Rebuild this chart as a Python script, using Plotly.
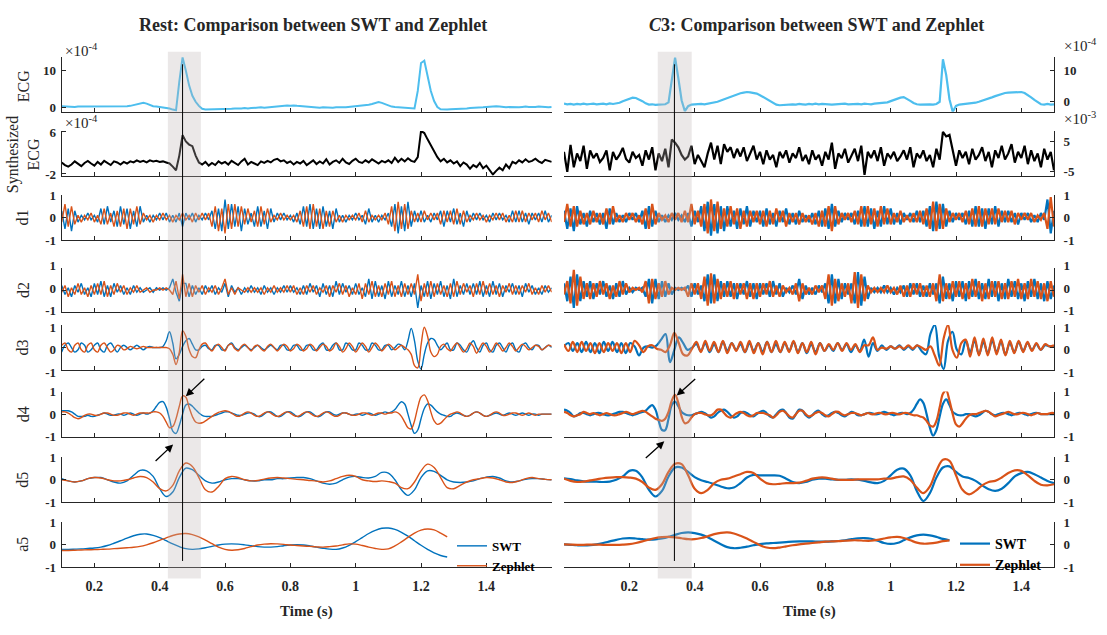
import numpy as np
import plotly.graph_objects as go

W, H = 1107, 635
FONT = "Times New Roman, Liberation Serif, serif"
SWT_C = "#0072BD"
ZEP_C = "#D95319"
ECG_C = "#4DBEEE"
AX_C = "#262626"

# ---------------- Rest recording (t = 0.10 .. 1.60 s) ----------------
rest_ecg = [
    0.4, 0.3, 0.4, 0.3, 0.2, 0.3, 0.3, 0.2, 0.3, 0.4,
    0.3, 0.2, 0.3, 0.3, 0.2, 0.4, 0.3, 0.3, 0.4, 0.3,
    0.4, 0.5, 0.7, 0.9, 1.0, 1.3, 1.1, 0.7, 0.4, 0.3,
    0.2, 0.1, 0.0, -0.2, -0.5, -0.7, 7.0, 13.5, 10.0, 6.0,
    3.2, 1.6, 0.5, -0.3, -0.5, -0.5, -0.4, -0.5, -0.4, -0.3,
    -0.4, -0.3, -0.3, -0.2, -0.3, -0.2, -0.1, -0.2, -0.1, 0.0,
    0.0, 0.1, 0.0, 0.1, 0.1, 0.2, 0.3, 0.4, 0.5, 0.6,
    0.5, 0.6, 0.5, 0.4, 0.3, 0.2, 0.1, 0.0, 0.1, 0.0,
    0.1, 0.0, 0.1, 0.0, 0.1, 0.2, 0.1, 0.1, 0.2, 0.3,
    0.3, 0.4, 0.5, 0.6, 0.8, 1.0, 1.2, 1.5, 1.3, 0.9,
    0.5, 0.3, 0.2, 0.1, 0.0, 0.0, -0.2, -0.3, -0.2, 4.5,
    12.0, 12.6, 8.5, 4.5, 1.8, 0.2, -0.4, -0.5, -0.5, -0.4,
    -0.4, -0.3, -0.3, -0.2, -0.2, -0.1, -0.1, 0.0, 0.0, 0.1,
    0.2, 0.3, 0.5, 0.4, 0.3, 0.2, 0.1, 0.2, 0.1, 0.2,
    0.1, 0.2, 0.3, 0.2, 0.1, 0.2, 0.3, 0.2, 0.2, 0.1, 0.2,
]
rest_synth = [
    0.2, -0.3, -0.6, -0.2, 0.4, -0.1, -0.5, 0.1, 0.5, 0.0,
    -0.4, 0.3, -0.2, 0.5, 0.1, -0.3, 0.4, 0.2, -0.2, 0.3,
    0.0, 0.4, 0.2, 0.6, 0.3, 0.5, 0.2, 0.6, 0.4, 0.5,
    0.3, 0.4, 0.2, 0.0, -0.6, -1.3, 1.5, 5.4, 4.2, 3.6,
    3.3, 1.5, 0.2, -0.2, 0.3, -0.4, 0.1, -0.3, 0.4, 0.0,
    0.3, -0.2, 0.5, 0.1, -0.3, 0.4, 0.9, -0.2, 0.3, 0.0,
    -0.3, 0.4, 0.1, 0.5, 0.2, 0.7, 0.9, 0.4, 0.6, 0.1,
    0.4, -0.2, 0.3, 0.0, 0.5, -0.3, 0.2, 0.6, -0.1, 0.4,
    0.0, 0.8, -0.2, 0.3, 0.6, 0.1, 0.9, 0.2, -0.1, 0.5,
    0.9, 0.3, 0.1, 0.6, 0.2, 0.8, 0.4, 0.0, 0.5, 0.2,
    0.6, 0.1, 1.1, 0.3, 0.9, 0.4, 1.0, 0.5, 0.3, 1.2,
    6.2, 5.8, 4.6, 3.4, 2.2, 1.2, 0.4, 0.9, 0.2, 0.6,
    0.0, 0.4, -0.5, 0.2, -0.2, -1.0, -0.3, -0.7, 0.1, -0.9,
    -0.4, -1.2, -2.1, -1.4, -0.8, -1.3, -0.2, -0.9, 0.3, 0.0,
    0.6, 0.2, 0.8, 0.3, 0.5, 0.9, 0.4, 0.1, 0.7, 0.5, 0.3,
]
rest_d1_swt = [
    0.3, -0.5, 0.4, -0.6, 0.3, -0.2, 0.1, -0.1, 0.2, -0.1,
    0.1, -0.2, 0.4, -0.3, 0.5, -0.2, 0.3, -0.4, 0.5, -0.3,
    0.4, -0.5, 0.3, -0.4, 0.5, -0.2, 0.1, -0.2, 0.1, -0.1,
    0.2, -0.1, 0.2, -0.2, 0.1, -0.2, 0.2, -0.4, 0.2, -0.1,
    0.2, -0.2, 0.1, -0.1, 0.2, -0.1, 0.3, -0.5, 0.4, -0.6,
    0.8, -0.5, 0.6, -0.4, 0.5, -0.6, 0.4, -0.3, 0.2, -0.4,
    0.5, -0.4, 0.3, -0.5, 0.4, -0.2, 0.2, -0.1, 0.2, -0.1,
    0.1, -0.2, 0.2, -0.3, 0.5, -0.4, 0.6, -0.5, 0.4, -0.5,
    0.5, -0.4, 0.3, -0.5, 0.4, -0.2, 0.1, -0.2, 0.1, -0.1,
    0.2, -0.1, 0.1, -0.3, 0.4, -0.2, 0.1, -0.2, 0.1, -0.1,
    0.2, -0.4, 0.6, -0.7, 0.5, -0.6, 0.7, -0.4, 0.3, -0.2,
    0.3, -0.2, 0.1, -0.2, 0.2, -0.1, 0.3, -0.4, 0.3, -0.2,
    0.4, -0.3, 0.2, -0.4, 0.3, -0.2, 0.2, -0.1, 0.2, -0.1,
    0.1, -0.2, 0.2, -0.1, 0.2, -0.1, 0.1, -0.2, 0.3, -0.2,
    0.3, -0.2, 0.2, -0.3, 0.2, -0.1, 0.2, -0.2, 0.3, -0.2, 0.1,
]
rest_d1_zep = [
    -0.2, 0.6, -0.4, 0.5, -0.3, 0.1, -0.2, 0.1, -0.1, 0.2,
    -0.2, 0.1, -0.3, 0.4, -0.3, 0.2, -0.4, 0.3, -0.4, 0.4,
    -0.5, 0.4, -0.3, 0.5, -0.3, 0.2, -0.1, 0.1, -0.2, 0.1,
    -0.1, 0.2, -0.1, 0.1, -0.2, 0.1, -0.1, 0.2, -0.1, 0.1,
    -0.2, 0.2, -0.1, 0.2, -0.1, 0.2, -0.4, 0.5, -0.6, 0.4,
    -0.7, 0.6, -0.5, 0.6, -0.4, 0.5, -0.3, 0.4, -0.2, 0.3,
    -0.4, 0.5, -0.3, 0.4, -0.2, 0.1, -0.1, 0.2, -0.1, 0.1,
    -0.1, 0.1, -0.2, 0.3, -0.4, 0.5, -0.5, 0.6, -0.4, 0.4,
    -0.5, 0.3, -0.4, 0.3, -0.2, 0.1, -0.2, 0.1, -0.1, 0.1,
    -0.1, 0.2, -0.2, 0.3, -0.2, 0.1, -0.1, 0.1, -0.1, 0.2,
    -0.3, 0.5, -0.6, 0.7, -0.5, 0.6, -0.5, 0.3, -0.2, 0.2,
    -0.2, 0.3, -0.1, 0.2, -0.1, 0.2, -0.3, 0.3, -0.2, 0.3,
    -0.3, 0.4, -0.3, 0.3, -0.2, 0.1, -0.1, 0.2, -0.1, 0.1,
    -0.2, 0.1, -0.1, 0.2, -0.1, 0.2, -0.2, 0.1, -0.2, 0.3,
    -0.2, 0.3, -0.2, 0.2, -0.1, 0.2, -0.2, 0.3, -0.1, 0.2, -0.2,
]
rest_d2_swt = [
    0.2, -0.2, 0.1, -0.3, 0.2, -0.1, 0.3, -0.2, 0.1, -0.3,
    0.3, -0.2, 0.4, -0.3, 0.2, -0.3, 0.3, -0.1, 0.2, -0.2,
    0.1, -0.2, 0.2, -0.1, 0.1, -0.1, 0.0, 0.1, -0.1, 0.1,
    0.0, 0.1, 0.0, 0.1, 0.5, -0.1, -0.5, 0.3, 0.3, -0.3,
    0.2, -0.2, 0.1, -0.2, 0.2, -0.1, 0.2, -0.2, 0.1, -0.1,
    0.3, -0.3, 0.2, -0.1, 0.1, -0.2, 0.1, -0.1, 0.2, -0.1,
    0.1, -0.2, 0.2, -0.1, 0.1, -0.2, 0.1, -0.1, 0.2, -0.1,
    0.2, -0.1, 0.1, -0.2, 0.2, -0.2, 0.3, -0.1, 0.2, -0.3,
    0.3, -0.2, 0.2, -0.3, 0.4, -0.2, 0.3, -0.1, 0.2, -0.2,
    0.3, -0.2, 0.1, -0.3, 0.5, -0.4, 0.4, -0.3, 0.2, -0.4,
    0.4, -0.3, 0.2, -0.2, 0.4, -0.3, 0.2, -0.3, 0.3, -0.8,
    0.2, -0.3, 0.4, -0.4, 0.3, -0.2, 0.4, -0.3, 0.2, -0.4,
    0.5, -0.3, 0.2, -0.2, 0.3, -0.2, 0.3, -0.2, 0.4, -0.3,
    0.2, -0.3, 0.4, -0.2, 0.3, -0.3, 0.2, -0.1, 0.3, -0.2,
    0.2, -0.3, 0.3, -0.1, 0.2, -0.2, 0.1, -0.2, 0.2, -0.1, 0.1,
]
rest_d2_zep = [
    -0.1, 0.2, -0.3, 0.1, -0.2, 0.3, -0.2, 0.1, -0.3, 0.2,
    -0.2, 0.3, -0.2, 0.4, -0.3, 0.2, -0.2, 0.3, -0.1, 0.2,
    -0.2, 0.1, -0.1, 0.2, -0.1, 0.0, 0.1, -0.1, 0.0, 0.0,
    0.1, 0.0, 0.1, 0.0, -0.2, 0.4, -0.4, 0.7, -0.3, 0.3,
    -0.3, 0.2, -0.1, 0.2, -0.2, 0.1, -0.1, 0.2, -0.2, 0.1,
    0.5, -0.2, 0.1, -0.2, 0.1, 0.0, -0.1, 0.1, -0.1, 0.1,
    -0.1, 0.1, -0.2, 0.1, -0.1, 0.2, -0.1, 0.1, -0.1, 0.2,
    -0.1, 0.2, -0.2, 0.1, -0.2, 0.2, -0.1, 0.2, -0.2, 0.1,
    -0.1, 0.2, -0.3, 0.2, -0.1, 0.3, -0.2, 0.2, -0.3, 0.1,
    -0.2, 0.3, -0.4, 0.3, -0.2, 0.4, -0.3, 0.2, -0.3, 0.3,
    -0.2, 0.4, -0.3, 0.2, -0.3, 0.3, -0.2, 0.3, -0.2, 0.7,
    -0.5, 0.3, -0.3, 0.4, -0.3, 0.3, -0.2, 0.2, -0.3, 0.3,
    -0.3, 0.4, -0.2, 0.3, -0.1, 0.2, -0.3, 0.3, -0.2, 0.4,
    -0.2, 0.3, -0.2, 0.2, -0.3, 0.2, -0.1, 0.3, -0.2, 0.2,
    -0.2, 0.2, -0.1, 0.3, -0.2, 0.1, -0.2, 0.2, -0.1, 0.2, -0.1,
]
rest_d3_swt = [
    -0.2, 0.1, 0.2, 0.0, -0.2, -0.1, 0.2, 0.1, -0.2, -0.1,
    0.1, 0.2, -0.1, -0.2, 0.1, 0.2, 0.0, -0.2, 0.0, 0.1,
    0.0, -0.1, 0.0, 0.1, 0.0, -0.1, 0.0, 0.05, 0.0, 0.0,
    0.0, 0.05, 0.3, 0.7, 0.2, -0.5, -0.3, 0.05, 0.3, 0.4,
    0.15, -0.1, -0.1, 0.05, 0.1, -0.05, -0.1, 0.1, 0.1, -0.1,
    -0.1, 0.1, 0.2, 0.0, -0.1, 0.0, 0.1, 0.0, -0.1, 0.0,
    0.1, 0.0, -0.1, 0.0, 0.1, 0.0, -0.1, 0.1, 0.1, -0.1,
    -0.1, 0.1, 0.1, -0.1, -0.1, 0.1, 0.1, -0.1, -0.1, 0.1,
    0.2, -0.1, -0.1, 0.1, 0.2, -0.1, -0.1, 0.2, 0.1, -0.1,
    -0.1, 0.2, 0.1, -0.1, -0.1, 0.2, 0.1, -0.1, -0.1, 0.1,
    0.1, -0.1, 0.0, 0.15, 0.1, -0.1, 0.3, 0.85, 0.3, -0.6,
    -0.95, -0.3, 0.2, 0.4, 0.35, 0.1, -0.1, 0.05, 0.2, -0.1,
    -0.1, 0.2, 0.1, -0.1, -0.2, 0.1, 0.3, 0.0, -0.2, 0.1,
    0.2, -0.1, -0.2, 0.1, 0.2, 0.0, -0.2, 0.1, 0.2, -0.1,
    -0.2, 0.1, 0.2, 0.0, -0.1, 0.1, 0.1, -0.1, 0.0, 0.1, 0.0,
]
rest_d3_zep = [
    0.1, 0.2, -0.1, -0.2, 0.1, 0.2, -0.1, -0.2, 0.1, 0.2,
    -0.1, -0.2, 0.1, 0.2, 0.0, -0.2, -0.1, 0.1, 0.05, -0.1,
    -0.05, 0.05, 0.0, -0.05, 0.0, 0.05, 0.0, 0.0, 0.0, 0.0,
    0.0, 0.0, 0.0, -0.05, -0.3, -0.75, -0.2, 0.75, 0.5, -0.1,
    -0.4, -0.45, -0.1, 0.15, 0.2, 0.0, -0.15, 0.05, 0.15, 0.0,
    -0.15, 0.1, 0.15, -0.05, -0.15, 0.05, 0.15, 0.0, -0.15, 0.05,
    0.1, -0.05, -0.15, 0.05, 0.15, 0.0, -0.15, 0.0, 0.15, 0.05,
    -0.15, -0.05, 0.15, 0.05, -0.15, -0.05, 0.15, 0.05, -0.15, 0.0,
    0.15, 0.05, -0.15, -0.05, 0.2, 0.05, -0.2, -0.05, 0.2, 0.05,
    -0.2, 0.0, 0.2, 0.05, -0.2, 0.0, 0.2, 0.05, -0.15, 0.0,
    0.15, 0.05, -0.1, 0.0, 0.1, 0.0, -0.1, -0.3, -0.8, -0.9,
    0.1, 0.9, 0.5, -0.2, -0.4, -0.3, 0.05, 0.15, -0.05, -0.15,
    0.05, 0.2, 0.0, -0.2, -0.05, 0.2, 0.05, -0.25, 0.0, 0.2,
    0.05, -0.2, -0.05, 0.2, 0.05, -0.15, 0.0, 0.2, 0.05, -0.15,
    0.0, 0.15, 0.05, -0.1, 0.0, 0.1, 0.05, -0.1, 0.0, 0.1, 0.05,
]
rest_d4_swt = [
    0.15, 0.15, 0.15, 0.1, 0.0, -0.1, -0.1, -0.1, -0.05, -0.1,
    -0.1, -0.05, 0.0, 0.05, 0.0, -0.05, -0.05, 0.0, 0.0, -0.05,
    0.0, 0.05, 0.0, -0.05, 0.0, 0.05, 0.0, 0.05, 0.15, 0.35,
    0.52, 0.55, 0.3, -0.2, -0.75, -0.85, -0.5, 0.0, 0.4, 0.45,
    0.35, 0.2, 0.05, -0.05, -0.1, -0.1, -0.1, -0.05, 0.0, 0.05,
    0.1, 0.1, 0.05, 0.0, -0.05, -0.05, 0.0, 0.05, 0.05, 0.0,
    -0.1, -0.1, 0.0, 0.1, 0.1, 0.0, -0.1, -0.1, 0.0, 0.1,
    0.1, 0.0, -0.1, -0.1, 0.0, 0.1, 0.1, 0.0, -0.1, -0.1,
    0.0, 0.1, 0.1, 0.0, -0.05, 0.0, 0.05, 0.05, 0.0, -0.05,
    0.0, 0.0, -0.05, 0.0, 0.05, 0.0, -0.05, 0.0, 0.05, 0.1,
    0.05, 0.1, 0.2, 0.4, 0.55, 0.45, 0.0, -0.5, -0.85, -0.7,
    -0.2, 0.25, 0.45, 0.4, 0.25, 0.1, 0.0, -0.05, -0.1, -0.1,
    0.0, 0.05, 0.0, -0.05, -0.1, -0.05, 0.05, 0.1, 0.05, -0.05,
    -0.1, -0.05, 0.0, 0.05, 0.0, -0.05, 0.0, 0.05, 0.0, -0.05,
    0.0, 0.05, 0.0, -0.05, 0.0, 0.0, -0.05, 0.0, 0.0, 0.0, 0.0,
]
rest_d4_zep = [
    0.1, 0.1, 0.05, -0.05, -0.15, -0.2, -0.15, -0.05, 0.0, 0.0,
    -0.05, -0.05, 0.0, 0.05, 0.05, 0.0, -0.05, -0.05, 0.0, 0.05,
    0.05, 0.0, -0.05, 0.0, 0.05, 0.05, 0.05, 0.05, 0.1, 0.1,
    0.05, -0.1, -0.35, -0.6, -0.55, -0.2, 0.35, 0.8, 0.75, 0.3,
    -0.1, -0.35, -0.4, -0.38, -0.3, -0.2, -0.1, 0.0, 0.08, 0.12,
    0.15, 0.12, 0.05, -0.05, -0.1, -0.05, 0.05, 0.1, 0.05, -0.05,
    -0.1, -0.05, 0.05, 0.1, 0.05, -0.05, -0.1, -0.05, 0.05, 0.1,
    0.05, -0.05, -0.1, -0.05, 0.05, 0.1, 0.05, -0.05, -0.1, -0.05,
    0.05, 0.1, 0.05, -0.05, -0.1, -0.05, 0.05, 0.05, 0.0, -0.05,
    -0.05, 0.0, 0.05, 0.05, 0.0, -0.05, 0.0, 0.05, 0.05, 0.0,
    0.05, 0.05, 0.1, 0.05, -0.1, -0.35, -0.6, -0.65, -0.3, 0.3,
    0.75, 0.85, 0.6, 0.1, -0.3, -0.45, -0.4, -0.25, -0.1, 0.0,
    0.05, 0.1, 0.05, -0.05, -0.1, -0.05, 0.05, 0.1, 0.05, -0.05,
    -0.1, -0.05, 0.05, 0.1, 0.05, -0.05, -0.05, 0.0, 0.05, 0.05,
    0.0, -0.05, 0.0, 0.05, 0.0, -0.05, 0.0, 0.0, 0.0, 0.0, 0.0,
]
rest_d5_swt = [
    0.05, -0.05, -0.1, -0.05, 0.05, 0.1, 0.1, 0.0, -0.1, -0.15,
    -0.05, 0.2, 0.42, 0.4, 0.15, -0.4, -0.75, -0.55, 0.1, 0.52,
    0.45, 0.2, -0.05, -0.15, -0.1, 0.0, 0.05, 0.05, 0.0, -0.05,
    -0.05, 0.0, 0.0, 0.05, 0.05, 0.08, 0.1, 0.1, 0.05, -0.05,
    -0.15, -0.2, -0.15, 0.0, 0.12, 0.15, 0.1, 0.08, 0.15, 0.33,
    0.3, 0.0, -0.45, -0.7, -0.45, 0.1, 0.4, 0.38, 0.2, 0.0,
    -0.1, -0.12, -0.1, -0.05, 0.05, 0.12, 0.15, 0.08, -0.05, -0.1,
    -0.05, 0.02, 0.05, 0.05, 0.02, 0.0,
]
rest_d5_zep = [
    0.0, -0.05, -0.1, -0.05, 0.05, 0.1, 0.08, 0.0, -0.05, -0.05,
    0.0, 0.08, 0.15, 0.1, -0.1, -0.4, -0.5, -0.25, 0.4, 0.75,
    0.6, 0.1, -0.45, -0.55, -0.3, 0.05, 0.15, 0.1, 0.0, -0.05,
    -0.03, 0.03, 0.08, 0.1, 0.08, 0.05, 0.02, 0.0, -0.03, -0.06,
    -0.1, -0.05, 0.05, 0.15, 0.2, 0.15, 0.0, -0.05, -0.08, -0.05,
    -0.08, -0.15, -0.35, -0.4, -0.1, 0.4, 0.7, 0.55, 0.1, -0.35,
    -0.4, -0.25, -0.1, 0.0, 0.05, 0.1, 0.08, 0.0, -0.1, -0.12,
    -0.05, 0.05, 0.1, 0.05, 0.02, 0.0,
]
rest_a5_swt = [
    -0.2, -0.2, -0.19, -0.18, -0.16, -0.14, -0.1, -0.03, 0.07, 0.18,
    0.3, 0.4, 0.47, 0.48, 0.42, 0.32, 0.18, 0.04, -0.08, -0.17,
    -0.2, -0.18, -0.13, -0.07, -0.01, 0.03, 0.04, 0.03, 0.0, -0.04,
    -0.08, -0.1, -0.1, -0.08, -0.04, -0.01, 0.0, -0.01, -0.05, -0.1,
    -0.15, -0.19, -0.2, -0.14, -0.02, 0.14, 0.32, 0.5, 0.64, 0.73,
    0.74, 0.68, 0.55, 0.38, 0.18, -0.02, -0.2, -0.36, -0.47, -0.54,
]
rest_a5_zep = [
    -0.25, -0.25, -0.24, -0.23, -0.22, -0.21, -0.2, -0.19, -0.17, -0.15,
    -0.13, -0.11, -0.07, 0.0, 0.09, 0.2, 0.31, 0.41, 0.48, 0.5,
    0.45, 0.35, 0.21, 0.05, -0.1, -0.2, -0.24, -0.22, -0.16, -0.08,
    -0.01, 0.03, 0.05, 0.04, 0.02, -0.01, -0.03, -0.05, -0.07, -0.09,
    -0.1, -0.08, -0.05, 0.0, 0.04, 0.03, -0.03, -0.1, -0.16, -0.2,
    -0.18, -0.05, 0.13, 0.33, 0.52, 0.65, 0.7, 0.66, 0.52, 0.35,
]

# ---------------- C3 recording (t = 0.00 .. 1.50 s) ----------------
c3_ecg = [
    -0.6, -0.8, -0.7, -0.9, -0.7, -0.8, -0.6, -0.8, -0.7, -0.6,
    -0.8, -0.7, -0.6, -0.8, -0.5, -0.7, -0.6, -0.3, 0.2, 0.6,
    1.0, 1.3, 1.2, 0.8, 0.2, -0.5, -0.9, -0.8, -1.0, -0.9,
    -0.9, -0.8, -0.2, 7.0, 14.0, 7.5, 0.5, -3.0, -1.4, -0.9,
    -0.8, -0.9, -0.7, -0.8, -0.6, -0.5, -0.3, 0.0, 0.4, 0.8,
    1.2, 1.6, 2.0, 2.4, 2.7, 2.9, 3.1, 3.0, 2.9, 2.6,
    2.1, 1.5, 0.8, 0.1, -0.5, -0.9, -1.1, -1.0, -0.9, -1.0,
    -0.8, -0.9, -0.7, -0.8, -0.9, -0.7, -0.8, -0.6, -0.8, -0.7,
    -0.8, -0.7, -0.9, -0.8, -0.7, -0.8, -0.6, -0.8, -0.7, -0.8,
    -0.7, -0.8, -0.6, -0.7, -0.8, -0.6, -0.5, -0.6, -0.4, -0.2,
    0.2, 0.6, 1.0, 1.3, 1.5, 1.0, 0.3, -0.4, -0.8, -0.9,
    -0.8, -0.9, -0.8, -0.9, -0.7, 0.0, 13.5, 8.5, 0.8, -3.2,
    -1.3, -0.9, -0.8, -0.6, -0.7, -0.5, -0.3, 0.0, 0.3, 0.6,
    1.0, 1.4, 1.8, 2.2, 2.5, 2.8, 2.9, 3.0, 3.1, 3.0,
    3.1, 2.8, 2.2, 1.4, 0.6, -0.2, -0.8, -0.9, -0.7, -0.9, -0.8,
]
c3_synth = [
    1.5, -5.0, 3.8, -3.5, 1.0, -1.5, 3.5, -4.0, 2.0, -0.5,
    1.0, -1.8, -0.5, 2.0, -4.5, 1.5, -1.0, 0.5, 2.8, -0.8,
    -2.0, 1.5, -0.5, 0.5, -3.0, 2.0, -1.0, 3.0, -4.5, 1.0,
    -1.5, 2.5, -3.5, 5.5, 4.5, 3.0, 0.5, -1.0, 0.0, 3.5,
    -2.5, 0.5, -1.5, -3.5, 1.0, 4.5, -1.0, 3.5, -2.5, 4.0,
    1.5, 3.0, -0.5, 2.5, 0.0, 3.0, -1.5, 1.0, 3.5, -1.0,
    1.5, -2.5, 2.0, -1.0, 0.5, -3.5, 1.5, -0.5, 2.0, -2.0,
    1.0, -0.5, 3.0, -1.5, 0.5, -2.5, 2.0, -1.0, 0.5, -3.0,
    1.5, -1.0, 4.5, -4.0, 1.0, -0.5, 2.5, -2.0, 0.0, 2.5,
    -1.5, 3.5, -6.0, 1.5, -0.5, 2.0, -1.5, 3.0, -3.0, 1.0,
    -0.5, 1.5, -1.5, 0.0, 2.0, -1.0, 3.0, -3.5, 1.0, -0.5,
    2.0, -1.5, 0.5, -3.5, 2.5, -1.0, 8.0, 6.5, 7.0, 2.0,
    -3.0, 2.0, -0.5, 1.5, -2.5, 2.5, -1.0, 0.5, 3.0, -1.5,
    1.5, -3.5, 2.0, -0.5, 3.5, -1.0, 1.0, 4.0, -2.0, 1.5,
    -0.5, 3.5, -2.5, 2.0, -1.5, 1.0, -3.5, 2.5, -1.0, 1.5, -4.5,
]
c3_d1_swt = [
    0.3, -0.5, 0.4, -0.6, 0.5, -0.3, 0.2, -0.4, 0.3, -0.2,
    0.2, -0.3, 0.2, -0.5, 0.4, -0.3, 0.2, -0.2, 0.1, -0.2,
    0.2, -0.1, 0.2, -0.2, 0.3, -0.5, 0.5, -0.4, 0.3, -0.2,
    0.1, -0.2, 0.1, -0.1, 0.2, -0.1, 0.1, -0.2, 0.2, -0.4,
    0.3, -0.2, 0.5, -0.6, 0.7, -0.8, 0.6, -0.7, 0.5, -0.6,
    0.5, -0.4, 0.3, -0.5, 0.4, -0.3, 0.5, -0.4, 0.3, -0.2,
    0.3, -0.4, 0.4, -0.3, 0.2, -0.4, 0.3, -0.2, 0.4, -0.3,
    0.2, -0.3, 0.3, -0.2, 0.1, -0.2, 0.2, -0.3, 0.3, -0.4,
    0.4, -0.5, 0.6, -0.4, 0.3, -0.2, 0.2, -0.1, 0.2, -0.3,
    0.3, -0.4, 0.5, -0.4, 0.4, -0.5, 0.3, -0.4, 0.5, -0.3,
    0.4, -0.3, 0.2, -0.3, 0.2, -0.1, 0.2, -0.2, 0.3, -0.2,
    0.3, -0.4, 0.5, -0.6, 0.7, -0.5, 0.6, -0.4, 0.3, -0.2,
    0.2, -0.1, 0.2, -0.3, 0.3, -0.4, 0.5, -0.4, 0.4, -0.5,
    0.4, -0.3, 0.5, -0.4, 0.3, -0.2, 0.3, -0.2, 0.2, -0.3,
    0.2, -0.1, 0.2, -0.2, 0.1, -0.2, 0.2, -0.1, 0.8, -0.7, 0.3,
]
c3_d1_zep = [
    -0.2, 0.6, -0.4, 0.5, -0.4, 0.3, -0.3, 0.2, -0.3, 0.3,
    -0.2, 0.2, -0.3, 0.4, -0.3, 0.5, -0.2, 0.1, -0.2, 0.2,
    -0.1, 0.2, -0.2, 0.1, -0.3, 0.4, -0.5, 0.6, -0.3, 0.2,
    -0.1, 0.1, -0.2, 0.2, -0.1, 0.2, -0.2, 0.3, -0.2, 0.6,
    -0.3, 0.3, -0.4, 0.6, -0.7, 0.8, -0.6, 0.7, -0.5, 0.4,
    -0.4, 0.5, -0.3, 0.4, -0.5, 0.3, -0.4, 0.3, -0.2, 0.3,
    -0.3, 0.3, -0.4, 0.3, -0.3, 0.4, -0.2, 0.3, -0.4, 0.2,
    -0.2, 0.2, -0.3, 0.2, -0.2, 0.1, -0.3, 0.2, -0.4, 0.3,
    -0.4, 0.5, -0.6, 0.5, -0.3, 0.2, -0.1, 0.2, -0.2, 0.3,
    -0.3, 0.5, -0.4, 0.5, -0.3, 0.4, -0.4, 0.5, -0.3, 0.4,
    -0.3, 0.2, -0.2, 0.3, -0.2, 0.1, -0.2, 0.2, -0.2, 0.3,
    -0.3, 0.4, -0.5, 0.7, -0.6, 0.6, -0.5, 0.4, -0.2, 0.2,
    -0.1, 0.2, -0.2, 0.3, -0.3, 0.4, -0.4, 0.5, -0.4, 0.4,
    -0.3, 0.4, -0.3, 0.4, -0.2, 0.3, -0.2, 0.3, -0.3, 0.2,
    -0.1, 0.2, -0.1, 0.2, -0.2, 0.1, -0.1, 0.2, -0.5, 0.9, -0.4,
]
c3_d2_swt = [
    0.3, -0.5, 0.6, -0.8, 0.7, -0.5, 0.4, -0.3, 0.4, -0.4,
    0.3, -0.2, 0.4, -0.3, 0.2, -0.4, 0.3, -0.3, 0.4, -0.2,
    0.1, -0.1, 0.1, 0.0, 0.1, -0.3, 0.5, -0.6, 0.5, -0.4,
    0.4, -0.3, 0.3, -0.2, 0.1, 0.0, 0.1, 0.0, 0.2, -0.3,
    0.3, -0.2, 0.2, -0.5, 0.7, -0.6, 0.7, -0.5, 0.4, -0.3,
    0.4, -0.3, 0.3, -0.4, 0.3, -0.2, 0.4, -0.3, 0.3, -0.4,
    0.3, -0.2, 0.3, -0.3, 0.4, -0.2, 0.3, -0.3, 0.1, -0.1,
    0.2, -0.2, 0.5, -0.4, 0.2, -0.2, 0.1, -0.2, 0.2, -0.1,
    0.3, -0.6, 0.7, -0.6, 0.5, -0.4, 0.3, -0.2, 0.3, -0.6,
    0.8, -0.7, 0.6, -0.4, 0.1, -0.1, 0.1, -0.1, 0.2, -0.1,
    0.1, -0.2, 0.1, -0.1, 0.2, -0.3, 0.3, -0.2, 0.3, -0.3,
    0.2, -0.3, 0.3, -0.2, 0.3, -0.6, 0.6, -0.4, 0.3, -0.5,
    0.4, -0.3, 0.4, -0.5, 0.4, -0.3, 0.5, -0.4, 0.3, -0.4,
    0.5, -0.3, 0.4, -0.5, 0.3, -0.4, 0.5, -0.3, 0.4, -0.4,
    0.3, -0.5, 0.4, -0.3, 0.5, -0.4, 0.3, -0.5, 0.4, -0.4, 0.2,
]
c3_d2_zep = [
    -0.2, 0.4, -0.6, 0.9, -0.7, 0.6, -0.4, 0.3, -0.4, 0.3,
    -0.3, 0.4, -0.2, 0.3, -0.4, 0.2, -0.3, 0.4, -0.2, 0.3,
    -0.1, 0.1, 0.0, 0.1, -0.1, 0.4, -0.6, 0.5, -0.4, 0.3,
    -0.3, 0.4, -0.2, 0.1, 0.0, 0.1, 0.0, 0.1, -0.3, 0.3,
    -0.2, 0.3, -0.4, 0.6, -0.7, 0.75, -0.6, 0.5, -0.4, 0.3,
    -0.3, 0.4, -0.4, 0.3, -0.2, 0.3, -0.4, 0.3, -0.4, 0.3,
    -0.3, 0.3, -0.2, 0.4, -0.3, 0.2, -0.3, 0.2, -0.1, 0.1,
    -0.2, 0.3, -0.5, 0.3, -0.2, 0.1, -0.2, 0.2, -0.1, 0.2,
    -0.4, 0.7, -0.7, 0.5, -0.5, 0.3, -0.3, 0.3, -0.6, 0.8,
    -0.8, 0.7, -0.5, 0.2, -0.1, 0.1, -0.1, 0.1, -0.1, 0.2,
    -0.1, 0.1, -0.2, 0.2, -0.3, 0.2, -0.3, 0.3, -0.2, 0.3,
    -0.3, 0.2, -0.3, 0.3, -0.5, 0.7, -0.5, 0.3, -0.4, 0.4,
    -0.3, 0.4, -0.4, 0.3, -0.4, 0.5, -0.3, 0.4, -0.5, 0.3,
    -0.4, 0.4, -0.3, 0.4, -0.4, 0.3, -0.4, 0.4, -0.3, 0.5,
    -0.4, 0.3, -0.4, 0.5, -0.3, 0.4, -0.4, 0.3, -0.5, 0.4, -0.3,
]
c3_d3_swt = [
    0.05, 0.2, -0.15, 0.2, -0.2, 0.25, -0.2, 0.2, -0.25, 0.25,
    -0.15, 0.25, -0.2, 0.2, -0.25, 0.2, 0.05, -0.35, 0.0, 0.05,
    0.0, 0.1, 0.35, 0.6, -0.65, -0.1, 0.45, 0.2, -0.1, 0.0,
    0.15, -0.15, 0.2, -0.2, 0.15, -0.2, 0.25, -0.15, 0.2, -0.1,
    0.15, -0.2, 0.2, -0.15, 0.2, -0.2, 0.25, -0.2, 0.15, -0.2,
    0.2, -0.15, 0.25, -0.2, 0.2, -0.25, 0.15, -0.2, 0.2, -0.15,
    0.1, -0.15, 0.2, -0.1, 0.15, -0.2, 0.1, -0.15, 0.35, -0.4,
    0.2, -0.15, 0.1, -0.1, 0.05, -0.05, 0.1, -0.1, 0.05, -0.1,
    0.1, -0.15, -0.3, 0.6, 1.0, -0.4, -0.95, 0.3, 0.7, -0.1,
    -0.3, 0.3, -0.2, 0.3, -0.3, 0.25, -0.25, 0.3, -0.2, 0.25,
    -0.3, 0.2, -0.2, 0.25, -0.15, 0.2, -0.1, 0.15, -0.1, 0.1, 0.05, 0.05,
]
c3_d3_zep = [
    0.15, -0.15, 0.25, -0.2, 0.25, -0.15, 0.2, -0.25, 0.2, -0.2,
    0.2, -0.15, 0.2, -0.25, 0.2, -0.2, 0.3, 0.1, -0.2, 0.05,
    0.1, -0.05, -0.1, -0.2, 0.1, 0.65, 0.2, -0.3, -0.35, -0.05,
    0.25, -0.2, 0.3, -0.15, 0.25, -0.2, 0.3, -0.25, 0.2, -0.15,
    0.25, -0.2, 0.3, -0.25, 0.2, -0.3, 0.25, -0.2, 0.3, -0.2,
    0.25, -0.2, 0.3, -0.25, 0.2, -0.2, 0.25, -0.3, 0.2, -0.15,
    0.15, -0.1, 0.2, -0.15, 0.2, -0.1, 0.15, -0.2, 0.1, 0.1,
    0.45, -0.1, 0.0, -0.05, 0.05, -0.05, 0.05, -0.05, 0.1, -0.05,
    0.1, 0.0, -0.1, 0.05, -0.35, -0.8, 0.4, 1.0, -0.1, -0.45,
    0.2, 0.35, -0.4, 0.45, -0.35, 0.4, -0.35, 0.45, -0.3, 0.35,
    -0.35, 0.3, -0.25, 0.3, -0.2, 0.25, -0.15, 0.2, -0.1, 0.15, 0.05, 0.1,
]
c3_d4_swt = [
    0.2, 0.15, 0.05, -0.1, -0.05, 0.05, 0.05, 0.0, -0.05, 0.0,
    0.05, 0.05, 0.0, -0.05, -0.05, 0.0, 0.05, 0.1, 0.1, 0.05,
    0.0, -0.05, 0.0, 0.05, 0.1, 0.15, 0.3, 0.4, 0.2, -0.3,
    -0.7, -0.7, -0.2, 0.4, 0.55, 0.35, 0.1, 0.0, -0.05, -0.05,
    0.0, 0.05, 0.1, 0.05, -0.05, -0.15, -0.1, 0.05, 0.15, 0.2,
    0.1, -0.05, -0.15, -0.1, 0.05, 0.1, 0.05, -0.05, -0.1, 0.0,
    0.1, 0.15, 0.05, -0.1, -0.15, 0.0, 0.15, 0.2, 0.05, -0.15,
    -0.2, 0.0, 0.2, 0.15, -0.05, -0.15, -0.05, 0.1, 0.15, 0.0,
    -0.1, -0.05, 0.05, 0.1, 0.05, -0.05, -0.1, 0.0, 0.1, 0.05,
    -0.05, -0.05, 0.0, 0.05, 0.05, 0.0, 0.0, 0.05, 0.1, 0.05,
    0.0, -0.05, 0.0, 0.05, 0.05, 0.0, 0.05, 0.2, 0.45, 0.65,
    0.5, 0.0, -0.6, -0.95, -0.7, -0.1, 0.45, 0.65, 0.4, 0.1,
    0.0, -0.05, -0.05, 0.0, 0.0, -0.05, -0.1, -0.05, 0.05, 0.15,
    0.1, 0.0, -0.05, 0.0, 0.05, 0.05, 0.0, -0.05, 0.0, 0.05,
    0.05, 0.0, -0.05, 0.0, 0.05, 0.05, 0.0, 0.0, 0.0, 0.0, 0.0,
]
c3_d4_zep = [
    0.1, 0.05, -0.05, -0.1, -0.05, 0.0, 0.1, 0.05, 0.0, 0.05,
    0.0, -0.05, 0.0, 0.05, 0.0, -0.05, -0.05, 0.0, 0.05, 0.1,
    0.05, 0.0, 0.05, 0.1, 0.15, 0.1, 0.0, -0.1, -0.2, -0.25,
    -0.3, -0.2, 0.1, 0.6, 0.85, 0.5, -0.1, -0.4, -0.35, -0.15,
    0.0, 0.05, 0.05, 0.0, -0.05, -0.05, 0.05, 0.2, 0.2, 0.05,
    -0.1, -0.15, -0.05, 0.05, 0.1, 0.05, -0.05, -0.1, -0.05, 0.05,
    0.05, 0.05, 0.0, -0.05, -0.15, -0.05, 0.1, 0.15, 0.05, -0.1,
    -0.15, 0.0, 0.15, 0.15, 0.0, -0.1, -0.05, 0.05, 0.1, 0.05,
    -0.05, -0.1, 0.0, 0.1, 0.1, 0.0, -0.05, 0.0, 0.05, 0.05,
    0.0, -0.05, 0.0, 0.05, 0.0, 0.0, 0.05, 0.05, 0.0, 0.0,
    0.05, 0.05, 0.0, 0.0, 0.05, 0.05, 0.0, -0.05, -0.05, -0.1,
    -0.15, -0.3, -0.5, -0.55, -0.3, 0.3, 0.9, 1.05, 0.6, 0.0,
    -0.45, -0.55, -0.4, -0.2, -0.05, 0.0, 0.0, 0.05, 0.1, 0.15,
    0.1, 0.0, -0.1, -0.05, 0.0, 0.05, 0.1, 0.05, 0.0, 0.0,
    0.05, 0.05, 0.0, -0.05, 0.0, 0.05, 0.0, 0.0, 0.0, 0.05, 0.05,
]
c3_d5_swt = [
    0.07, 0.03, -0.03, -0.07, -0.08, -0.08, -0.1, -0.08, 0.0, 0.15,
    0.4, 0.4, 0.1, -0.45, -0.75, -0.5, 0.15, 0.55, 0.55, 0.35,
    0.12, -0.02, -0.1, -0.2, -0.3, -0.38, -0.35, -0.15, 0.1, 0.22,
    0.2, 0.2, 0.2, 0.18, 0.05, -0.1, -0.15, -0.1, 0.0, 0.05,
    0.05, 0.02, 0.0, 0.0, 0.02, 0.0, -0.05, -0.12, -0.15, -0.05,
    0.2, 0.45, 0.5, 0.2, -0.5, -0.95, -0.6, 0.1, 0.55, 0.6,
    0.35, 0.15, 0.08, -0.05, -0.25, -0.42, -0.5, -0.4, -0.15, 0.15,
    0.3, 0.35, 0.25, 0.1, -0.05, -0.15,
]
c3_d5_zep = [
    0.05, -0.05, -0.1, -0.08, -0.03, 0.02, 0.07, 0.1, 0.12, 0.12,
    0.1, 0.05, -0.1, -0.35, -0.45, -0.2, 0.35, 0.72, 0.7, 0.2,
    -0.4, -0.6, -0.45, -0.15, 0.0, 0.05, 0.15, 0.25, 0.35, 0.3,
    0.05, -0.15, -0.2, -0.18, -0.15, -0.15, -0.13, -0.05, 0.05, 0.1,
    0.1, 0.05, 0.0, 0.0, 0.0, 0.02, 0.02, 0.02, 0.02, 0.05,
    0.05, 0.12, 0.15, 0.0, -0.35, -0.6, -0.3, 0.4, 0.9, 0.85,
    0.2, -0.45, -0.65, -0.5, -0.25, -0.1, -0.05, 0.1, 0.3, 0.42,
    0.4, 0.2, -0.05, -0.22, -0.25, -0.2,
]
c3_a5_swt = [
    0.02, 0.0, -0.02, -0.03, -0.02, 0.02, 0.08, 0.15, 0.22, 0.28,
    0.3, 0.28, 0.25, 0.23, 0.24, 0.28, 0.35, 0.44, 0.52, 0.55,
    0.52, 0.45, 0.33, 0.18, 0.03, -0.1, -0.15, -0.13, -0.08, -0.02,
    0.03, 0.06, 0.08, 0.1, 0.12, 0.14, 0.15, 0.15, 0.15, 0.14,
    0.14, 0.15, 0.17, 0.2, 0.25, 0.29, 0.3, 0.27, 0.18, 0.08,
    0.04, 0.08, 0.2, 0.33, 0.42, 0.45, 0.42, 0.35, 0.26, 0.2,
]
c3_a5_zep = [
    0.02, 0.01, 0.0, 0.0, 0.01, 0.01, 0.0, 0.0, 0.0, 0.01,
    0.03, 0.08, 0.15, 0.23, 0.3, 0.34, 0.35, 0.33, 0.29, 0.25,
    0.25, 0.3, 0.38, 0.47, 0.53, 0.55, 0.5, 0.4, 0.28, 0.13,
    -0.02, -0.12, -0.15, -0.12, -0.07, -0.02, 0.02, 0.05, 0.08, 0.11,
    0.14, 0.15, 0.16, 0.18, 0.2, 0.2, 0.18, 0.18, 0.22, 0.28,
    0.33, 0.35, 0.3, 0.2, 0.1, 0.05, 0.06, 0.1, 0.16, 0.2,
]

tick_times = [0.2, 0.4, 0.6, 0.8, 1.0, 1.2, 1.4]
tick_time_text = ["0.2", "0.4", "0.6", "0.8", "1", "1.2", "1.4"]
row_names = ["ECG", "Synthesized<br>ECG", "d1", "d2", "d3", "d4", "d5", "a5"]
titles = ["<b>Rest: Comparison between SWT and Zephlet</b>",
          "<b><i>C</i>3: Comparison between SWT and Zephlet</b>"]

# panel boxes in pixels (top, bottom) and (left, right)
ROWS = [(49.3, 106.0), (125.7, 171.7), (191.7, 238.3), (266.7, 312.7),
        (325.7, 372.3), (394.3, 441.0), (462.3, 508.3), (529.0, 575.7)]
COLS = [(61.7, 551.7), (564.0, 1054.0)]
# small vertical nudge of tick labels where two panels sit close together
LABEL_SHIFT = {3: -2, 4: 2}


def ydom(r):
    top, bot = ROWS[r]
    return [1 - bot / H, 1 - top / H]


def xdom(c):
    left, right = COLS[c]
    return [left / W, right / W]


def px_x(p):
    return p / W


def px_y(p):
    return 1 - p / H


def t_axis(t0, t1, vals):
    return np.linspace(t0, t1, len(vals))


columns = [
    dict(t0=0.10, t1=1.60, a5_end=1.28, xrange=[0.1, 1.6], side="left",
         ecg=rest_ecg, synth=rest_synth,
         ecg_range=[-1.1, 13.65], ecg_ticks=[0, 10],
         synth_range=[-2.3, 6.2], synth_ticks=[-2, 6],
         pairs=[(rest_d1_swt, rest_d1_zep), (rest_d2_swt, rest_d2_zep),
                (rest_d3_swt, rest_d3_zep), (rest_d4_swt, rest_d4_zep),
                (rest_d5_swt, rest_d5_zep), (rest_a5_swt, rest_a5_zep)],
         lw=1.4, lw_ecg=2.0, legend="legend", standoff=2),
    dict(t0=0.0, t1=1.50, a5_end=1.18, xrange=[0.0, 1.5], side="right",
         ecg=c3_ecg, synth=c3_synth,
         ecg_range=[-3.2, 14.3], ecg_ticks=[0, 10],
         synth_range=[-6.2, 8.3], synth_ticks=[-5, 5],
         pairs=[(c3_d1_swt, c3_d1_zep), (c3_d2_swt, c3_d2_zep),
                (c3_d3_swt, c3_d3_zep), (c3_d4_swt, c3_d4_zep),
                (c3_d5_swt, c3_d5_zep), (c3_a5_swt, c3_a5_zep)],
         lw=2.2, lw_ecg=2.2, legend="legend2", standoff=6),
]

fig = go.Figure()
layout = {}
ytickfont = dict(family=FONT, size=13, color=AX_C, weight="bold")
xtickfont = dict(family=FONT, size=14, color=AX_C, weight="bold")

for c, col in enumerate(columns):
    for r in range(8):
        n = c * 8 + r + 1
        xa, ya = f"x{n}", f"y{n}"
        layout[f"xaxis{n}"] = dict(
            domain=xdom(c), range=col["xrange"], anchor=ya,
            showline=True, linecolor=AX_C, linewidth=1,
            ticks="inside", ticklen=4, tickcolor=AX_C,
            tickvals=tick_times, ticktext=tick_time_text,
            showticklabels=(r == 7), tickfont=xtickfont, ticklabelstandoff=6,
            showgrid=False, zeroline=False, fixedrange=True)
        if r == 0:
            yr, yt = col["ecg_range"], col["ecg_ticks"]
        elif r == 1:
            yr, yt = col["synth_range"], col["synth_ticks"]
        else:
            yr, yt = [-1, 1], [-1, 0, 1]
        layout[f"yaxis{n}"] = dict(
            domain=ydom(r), range=yr, anchor=xa, side=col["side"],
            showline=True, linecolor=AX_C, linewidth=1,
            ticks="inside", ticklen=4, tickcolor=AX_C,
            tickvals=yt, ticktext=[str(v) for v in yt], tickfont=ytickfont,
            ticklabelstandoff=col["standoff"], ticklabelshift=LABEL_SHIFT.get(r, 0),
            showgrid=False, zeroline=False, fixedrange=True)

        if r == 0:
            fig.add_trace(go.Scatter(
                x=t_axis(col["t0"], col["t1"], col["ecg"]), y=col["ecg"],
                xaxis=xa, yaxis=ya, mode="lines", showlegend=False,
                line=dict(color=ECG_C, width=col["lw_ecg"]), hoverinfo="skip"))
        elif r == 1:
            fig.add_trace(go.Scatter(
                x=t_axis(col["t0"], col["t1"], col["synth"]), y=col["synth"],
                xaxis=xa, yaxis=ya, mode="lines", showlegend=False,
                line=dict(color="black", width=col["lw_ecg"]), hoverinfo="skip"))
        else:
            swt, zep = col["pairs"][r - 2]
            t1 = col["a5_end"] if r == 7 else col["t1"]
            shape = "spline" if r >= 4 else "linear"
            for name, vals, color in (("SWT", swt, SWT_C), ("Zephlet", zep, ZEP_C)):
                fig.add_trace(go.Scatter(
                    x=t_axis(col["t0"], t1, vals), y=vals,
                    xaxis=xa, yaxis=ya, mode="lines", name=name,
                    showlegend=(r == 7), legend=col["legend"],
                    line=dict(color=color, width=col["lw"], shape=shape),
                    hoverinfo="skip"))

legend_font = dict(family=FONT, size=14, color="black", weight="bold")
layout["legend"] = dict(x=px_x(452), y=px_y(538), xanchor="left", yanchor="top",
                        font=dict(family=FONT, size=13, color="black", weight="bold"),
                        bgcolor="rgba(0,0,0,0)", tracegroupgap=0, itemwidth=30)
layout["legend2"] = dict(x=px_x(955), y=px_y(535), xanchor="left", yanchor="top",
                         font=legend_font, bgcolor="rgba(0,0,0,0)",
                         tracegroupgap=0, itemwidth=30)

# highlighted QRS window and R-peak marker in each column
shapes = []
for xref, (x0, x1), xline in (("x8", (0.425, 0.526), 0.470),
                              ("x16", (0.287, 0.391), 0.338)):
    shapes.append(dict(type="rect", xref=xref, yref="paper", x0=x0, x1=x1,
                       y0=px_y(587), y1=px_y(44), line=dict(width=0),
                       fillcolor="rgba(190,180,180,0.30)", layer="above"))
    shapes.append(dict(type="line", xref=xref, yref="paper", x0=xline, x1=xline,
                       y0=px_y(569), y1=px_y(57),
                       line=dict(color="black", width=1), layer="above"))

annotations = []
col_centres = [306.7, 809.0]
title_centres = [313.0, 816.0]
for c in range(2):
    annotations.append(dict(text=titles[c], xref="paper", yref="paper",
                            x=px_x(title_centres[c]), y=px_y(16),
                            showarrow=False, xanchor="center", yanchor="middle",
                            font=dict(family=FONT, size=18, color=AX_C)))
    annotations.append(dict(text="<b>Time (s)</b>", xref="paper", yref="paper",
                            x=px_x(col_centres[c]), y=px_y(621), showarrow=False,
                            xanchor="center", yanchor="middle",
                            font=dict(family=FONT, size=15, color=AX_C)))

for r, name in enumerate(row_names):
    top, bot = ROWS[r]
    annotations.append(dict(text=name, xref="paper", yref="paper",
                            x=px_x(23), y=px_y((top + bot) / 2 + (2 if r < 2 else 0)),
                            showarrow=False, textangle=-90,
                            xanchor="center", yanchor="middle",
                            font=dict(family=FONT, size=16, color=AX_C)))

exp_font = dict(family=FONT, size=15, color=AX_C)
for x_px, y_px, txt in ((63, 42, "×10<sup>-4</sup>"), (63, 117, "×10<sup>-4</sup>"),
                        (1062, 37, "×10<sup>-4</sup>"), (1062, 112, "×10<sup>-3</sup>")):
    annotations.append(dict(text=txt, xref="paper", yref="paper",
                            x=px_x(x_px), y=px_y(y_px), showarrow=False,
                            xanchor="left", yanchor="middle", font=exp_font))


def d4_paper_y(v):
    b, t = ydom(5)
    return b + (v + 1) / 2 * (t - b)


for xref, xh, vh, ax, ay in (("x6", 0.480, 0.79, 20, -19), ("x6", 0.441, -1.34, -19, 18),
                             ("x14", 0.345, 0.82, 20, -18), ("x14", 0.307, -1.20, -20, 18)):
    annotations.append(dict(xref=xref, yref="paper", x=xh, y=d4_paper_y(vh),
                            ax=ax, ay=ay, text="", showarrow=True,
                            arrowhead=2, arrowsize=1.2, arrowwidth=1.3,
                            arrowcolor="black"))

layout.update(dict(width=W, height=H, margin=dict(l=0, r=0, t=0, b=0),
                   paper_bgcolor="white", plot_bgcolor="white",
                   shapes=shapes, annotations=annotations,
                   font=dict(family=FONT, color=AX_C)))
fig.update_layout(**layout)
fig.write_html("out.html")
